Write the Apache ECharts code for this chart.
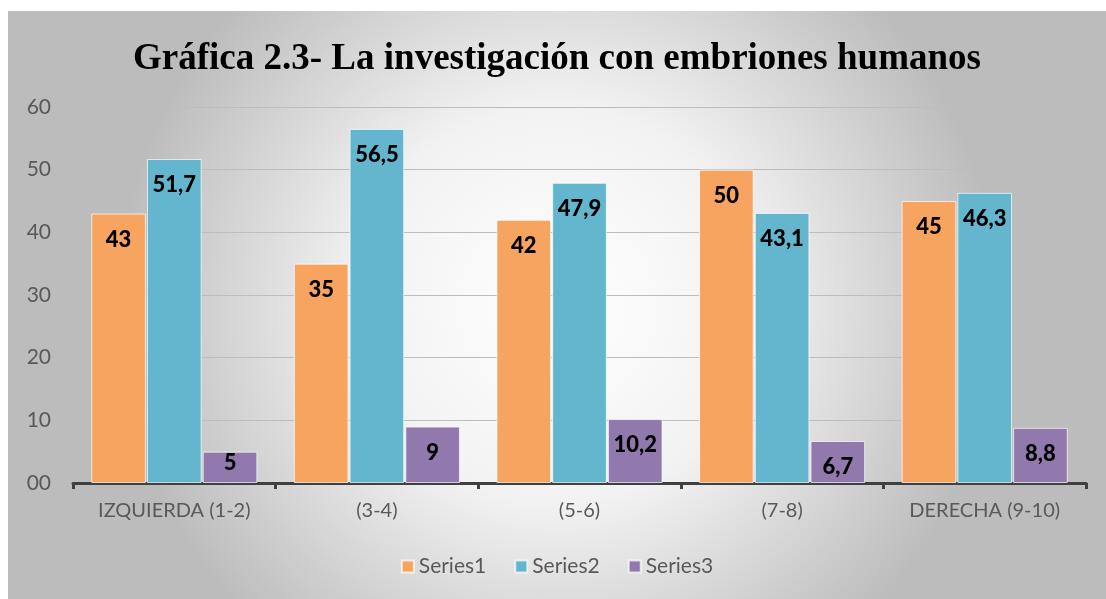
<!DOCTYPE html>
<html>
<head>
<meta charset="utf-8">
<script src="https://cdn.jsdelivr.net/npm/echarts@6/dist/echarts.min.js"></script>
<style>
  html, body { margin: 0; padding: 0; background: #fff; }
  #chart { position: absolute; left: 8px; top: 11px; width: 1098px; height: 588px; }
</style>
</head>
<body>
<div id="chart"></div>
<script>
const categories = ['IZQUIERDA (1-2)', '(3-4)', '(5-6)', '(7-8)', 'DERECHA (9-10)'];
const series1 = [43, 35, 42, 50, 45];
const series2 = [51.7, 56.5, 47.9, 43.1, 46.3];
const series3 = [5, 9, 10.2, 6.7, 8.8];
const seriesNames = ['Series1', 'Series2', 'Series3'];
const colors = ['#F7A460', '#63B6CD', '#9179AE'];

const chartDom = document.getElementById('chart');
const myChart = echarts.init(chartDom);

const fmt = (p) => String(p.value).replace('.', ',');

const makeSeries = (name, values, color) => ({
  name: name,
  type: 'bar',
  barGap: '2%',
  barCategoryGap: '18%',
  itemStyle: {
    color: color,
    borderColor: 'rgba(255,255,255,0.7)',
    borderWidth: 1,
  },
  label: {
    show: true,
    position: 'insideTop',
    distance: 15,
    color: '#000',
    fontFamily: 'Lato',
    fontWeight: 900,
    fontSize: 22,
    formatter: fmt,
  },
  // small bars: keep label near the top
  data: values.map((v) => (v < 6 ? { value: v, label: { distance: 0 } } : v)),
});

const option = {
  backgroundColor: {
    type: 'radial',
    x: 0.5,
    y: 0.5,
    r: 0.75,
    colorStops: [
      { offset: 0, color: '#ffffff' },
      { offset: 0.45, color: '#f2f2f2' },
      { offset: 1, color: '#bcbcbc' },
    ],
  },
  animation: false,
  color: colors,
  title: {
    text: 'Gráfica 2.3- La investigación con embriones humanos',
    left: 'center',
    top: 25,
    textStyle: {
      fontFamily: 'Liberation Serif',
      fontWeight: 'bold',
      fontSize: 37,
      color: '#000',
    },
  },
  legend: {
    data: seriesNames,
    bottom: 17,
    left: 'center',
    itemWidth: 12,
    itemHeight: 12,
    itemGap: 28,
    icon: 'rect',
    textStyle: {
      fontFamily: 'Lato',
      fontSize: 21,
      color: '#595959',
    },
  },
  grid: {
    left: 65,
    right: 20,
    top: 96,
    bottom: 116,
  },
  xAxis: {
    type: 'category',
    data: categories,
    axisLine: { lineStyle: { color: '#404040', width: 3 } },
    axisTick: { show: true, length: 6, lineStyle: { color: '#404040', width: 3 } },
    axisLabel: {
      margin: 18,
      fontFamily: 'Lato',
      fontSize: 20,
      color: '#595959',
    },
  },
  yAxis: {
    type: 'value',
    min: 0,
    max: 60,
    interval: 10,
    axisLine: { show: false },
    axisTick: { show: false },
    axisLabel: {
      margin: 22,
      fontFamily: 'Lato',
      fontSize: 21,
      color: '#595959',
      formatter: (v) => (v === 0 ? '00' : String(v)),
    },
    splitLine: { lineStyle: { color: '#bdbdbd', width: 1 } },
  },
  series: [
    makeSeries(seriesNames[0], series1, colors[0]),
    makeSeries(seriesNames[1], series2, colors[1]),
    makeSeries(seriesNames[2], series3, colors[2]),
  ],
};

myChart.setOption(option);
window.addEventListener('resize', () => myChart.resize());
</script>
</body>
</html>
